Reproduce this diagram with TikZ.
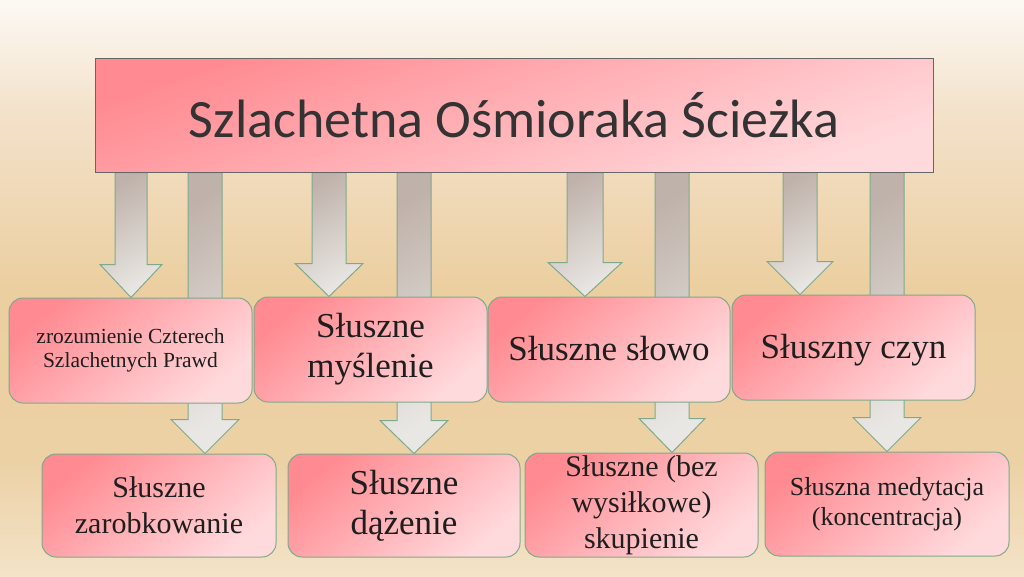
\documentclass[tikz,border=0pt]{standalone}
\usepackage{fontspec}
\setmainfont{Liberation Serif}
\newfontfamily\titlefont{Carlito}
\usetikzlibrary{calc}
\pgfdeclarelayer{bg}\pgfdeclarelayer{arr}\pgfsetlayers{bg,arr,main}
\definecolor{boxA}{HTML}{FF8A91}
\definecolor{boxB}{HTML}{FFDADD}
\definecolor{edgeG}{HTML}{7FA98C}
\definecolor{arrA}{HTML}{BFB2AA}
\definecolor{arrB}{HTML}{E9E7E4}
\definecolor{txt}{HTML}{1E1E1E}
\definecolor{bgtop}{HTML}{FCF9F4}
\definecolor{bgup}{HTML}{F3E1C9}
\definecolor{bgmid}{HTML}{EBCFA0}
\definecolor{bglow}{HTML}{ECD1A5}
\definecolor{bgbot}{HTML}{F3E3C8}
\pgfdeclareverticalshading{bgshade}{100bp}{color(0bp)=(bgbot); color(25bp)=(bgbot); color(35bp)=(bglow); color(50bp)=(bgmid); color(65bp)=(bgup); color(75bp)=(bgtop); color(100bp)=(bgtop)}
\tikzset{
 pbox/.style={rectangle, rounded corners=14pt, draw=edgeG, line width=1pt, top color=boxA, bottom color=boxB, shading angle=40, align=center, text=txt, inner sep=0pt},
 tbox/.style={rectangle, draw=black!60, line width=1pt, top color=boxA, bottom color=boxB, shading angle=20, text=black!80, inner sep=0pt},
 barr/.style={draw=edgeG, line width=1pt, top color=arrA, bottom color=arrB, shading angle=30, line join=miter}
}
\newcommand\blockarr[6]{%
 \shade[barr] let \p1=(#2.south), \p2=(#3.north) in
  ({#1pt-#4pt},\y1) -- ({#1pt-#4pt},{\y2+#6pt}) -- ({#1pt-#5pt},{\y2+#6pt}) -- ({#1pt},\y2) -- ({#1pt+#5pt},{\y2+#6pt}) -- ({#1pt+#4pt},{\y2+#6pt}) -- ({#1pt+#4pt},\y1) -- cycle;}
\begin{document}
\begin{tikzpicture}[x=1pt,y=-1pt]
\useasboundingbox (0,0) rectangle (1024,576);
\begin{pgfonlayer}{bg}
\shade[shading=bgshade] (0,0) rectangle (1024,576);
\end{pgfonlayer}
\node[tbox, minimum width=838pt, minimum height=114pt, font=\titlefont\fontsize{54}{60}\selectfont] (title) at (514,115) {Szlachetna Ośmioraka Ścieżka};
\node[pbox, minimum width=243pt, minimum height=105pt, font=\fontsize{21.5}{24}\selectfont] (b1) at (130.5,350.5) {zrozumienie Czterech\\Szlachetnych Prawd};
\node[pbox, minimum width=233pt, minimum height=105pt, font=\fontsize{35}{40}\selectfont] (b2) at (370.5,349.5) {Słuszne\\myślenie};
\node[pbox, minimum width=242pt, minimum height=105pt, font=\fontsize{35}{40}\selectfont, text depth=2pt] (b3) at (609,349.5) {Słuszne słowo};
\node[pbox, minimum width=243pt, minimum height=105pt, font=\fontsize{35}{40}\selectfont, text depth=2pt] (b4) at (853.5,347.5) {Słuszny czyn};
\node[pbox, minimum width=234pt, minimum height=103pt, font=\fontsize{30}{36}\selectfont] (b5) at (159,505.5) {Słuszne\\zarobkowanie};
\node[pbox, minimum width=232pt, minimum height=103pt, font=\fontsize{35}{40}\selectfont] (b6) at (404,505.5) {Słuszne\\dążenie};
\node[pbox, minimum width=233pt, minimum height=104pt, font=\fontsize{30}{36}\selectfont] (b7) at (641.5,505) {Słuszne (bez\\wysiłkowe)\\skupienie};
\node[pbox, minimum width=244pt, minimum height=104pt, font=\fontsize{26}{30}\selectfont] (b8) at (887,504) {Słuszna medytacja\\(koncentracja)};
\begin{pgfonlayer}{arr}
\blockarr{131}{title}{b1}{16}{31}{33}
\blockarr{205}{title}{b5}{17}{34}{34}
\blockarr{329}{title}{b2}{17}{34}{33}
\blockarr{414}{title}{b6}{17}{34}{33}
\blockarr{585}{title}{b3}{18}{37}{34}
\blockarr{672}{title}{b7}{17}{33}{34}
\blockarr{800}{title}{b4}{17}{33}{33}
\blockarr{887}{title}{b8}{17}{34}{34}
\end{pgfonlayer}
\end{tikzpicture}
\end{document}
